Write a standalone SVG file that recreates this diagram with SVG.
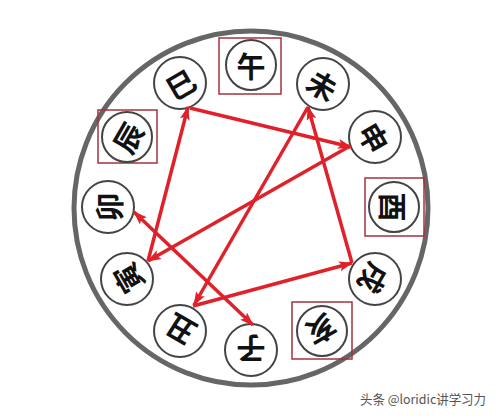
<svg xmlns="http://www.w3.org/2000/svg" width="500" height="418" viewBox="0 0 500 418">
<defs>
<style>
.ring{fill:none;stroke:#666;stroke-width:5}
.node circle{fill:#fff;stroke:#444;stroke-width:2}
.node text{font-family:"Noto Sans CJK SC","Noto Sans CJK TC",sans-serif;font-weight:700;font-size:29px;fill:#111;text-anchor:middle;dominant-baseline:central}
.box{fill:none;stroke:#a8303c;stroke-width:1.5}
.arr{fill:none;stroke:#e0212a;stroke-width:3.5;marker-end:url(#ah)}
.both{marker-start:url(#ah)}
.wm{font-family:"Noto Sans CJK SC","Liberation Sans",sans-serif;font-size:13px;fill:#555}
</style>
<marker id="ah" markerUnits="userSpaceOnUse" viewBox="0 0 14 10" refX="13" refY="5" markerWidth="14" markerHeight="10" orient="auto-start-reverse">
<path d="M0,0 L14,5 L0,10 L3,5 z" fill="#e0212a"/>
</marker>
</defs>
<rect width="500" height="418" fill="#fff"/>
<circle class="ring" cx="251" cy="208" r="177"/>
<g id="n-wu" class="node"><rect class="box" x="219" y="38" width="62" height="56"/><circle cx="251" cy="65" r="25"/><text transform="translate(251,65) rotate(0)">午</text></g>
<g id="n-wei" class="node"><circle cx="323" cy="84" r="26"/><text transform="translate(323,84) rotate(30)">未</text></g>
<g id="n-shen" class="node"><circle cx="375" cy="137" r="26"/><text transform="translate(375,137) rotate(60)">申</text></g>
<g id="n-you" class="node"><rect class="box" x="365" y="178" width="59" height="58"/><circle cx="394" cy="207" r="25"/><text transform="translate(394,207) rotate(90)">酉</text></g>
<g id="n-xu" class="node"><circle cx="375" cy="279" r="26"/><text transform="translate(375,279) rotate(120)">戌</text></g>
<g id="n-hai" class="node"><rect class="box" x="292" y="302" width="60" height="57"/><circle cx="322" cy="331" r="25"/><text transform="translate(322,331) rotate(150)">亥</text></g>
<g id="n-zi" class="node"><circle cx="251" cy="350" r="26"/><text transform="translate(251,350) rotate(180)">子</text></g>
<g id="n-chou" class="node"><circle cx="180" cy="331" r="26"/><text transform="translate(180,331) rotate(210)">丑</text></g>
<g id="n-yin" class="node"><circle cx="127" cy="279" r="26"/><text transform="translate(127,279) rotate(240)">寅</text></g>
<g id="n-mao" class="node"><circle cx="108" cy="207" r="26"/><text transform="translate(108,207) rotate(270)">卯</text></g>
<g id="n-chen" class="node"><rect class="box" x="98" y="110" width="59" height="53"/><circle cx="127" cy="137" r="25"/><text transform="translate(127,137) rotate(300)">辰</text></g>
<g id="n-si" class="node"><circle cx="180" cy="83" r="26"/><text transform="translate(180,83) rotate(330)">巳</text></g>
<g id="connectors">
<path class="arr" d="M190,108 L351,147"/>
<path class="arr" d="M350,146 L148,261"/>
<path class="arr" d="M148,261 L188,107"/>
<path class="arr" d="M193,306 L352,263"/>
<path class="arr" d="M352,263 L308,107"/>
<path class="arr" d="M308,107 L194,305"/>
<path class="arr both" d="M134,212 L253,325"/>
</g>
<text class="wm" x="360" y="404" textLength="126" lengthAdjust="spacingAndGlyphs">头条 @loridic讲学习力</text>
</svg>
